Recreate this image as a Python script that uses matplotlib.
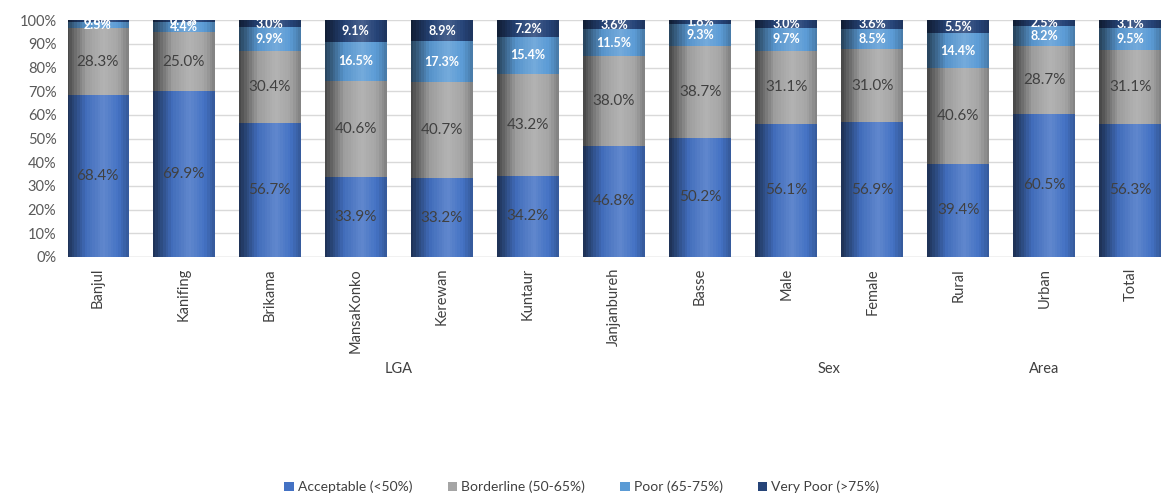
import numpy as np
import matplotlib
matplotlib.use("Agg")
import matplotlib.pyplot as plt
from matplotlib.colors import LinearSegmentedColormap, to_rgb

plt.rcParams["font.family"] = ["Lato", "DejaVu Sans"]

categories = ["Banjul", "Kanifing", "Brikama", "MansaKonko", "Kerewan", "Kuntaur",
              "Janjanbureh", "Basse", "Male", "Female", "Rural", "Urban", "Total"]
acceptable = [68.4, 69.9, 56.7, 33.9, 33.2, 34.2, 46.8, 50.2, 56.1, 56.9, 39.4, 60.5, 56.3]
borderline = [28.3, 25.0, 30.4, 40.6, 40.7, 43.2, 38.0, 38.7, 31.1, 31.0, 40.6, 28.7, 31.1]
poor = [2.5, 4.4, 9.9, 16.5, 17.3, 15.4, 11.5, 9.3, 9.7, 8.5, 14.4, 8.2, 9.5]
very_poor = [0.8, 0.7, 3.0, 9.1, 8.9, 7.2, 3.6, 1.8, 3.0, 3.6, 5.5, 2.5, 3.1]

series_names = ["Acceptable (<50%)", "Borderline (50-65%)", "Poor (65-75%)", "Very Poor (>75%)"]
groups = [("LGA", 3.5), ("Sex", 8.5), ("Area", 11)]

colors = ["#4472C4", "#A5A5A5", "#5B9BD5", "#264478"]
label_colors = ["#404040", "#404040", "white", "white"]


def shade(c, f):
    r = np.array(to_rgb(c))
    if f < 0:
        return tuple(r * (1 + f))
    return tuple(r + (1 - r) * f)


fig = plt.figure(figsize=(11.64, 4.93), dpi=100)
ax = fig.add_axes([0.058, 0.479, 0.939, 0.48])

x = np.arange(len(categories))
width = 0.72
n_slices = 24
bottom = np.zeros(len(categories))
data = [acceptable, borderline, poor, very_poor]

for vals, col, lc, name in zip(data, colors, label_colors, series_names):
    vals = np.array(vals)
    cmap = LinearSegmentedColormap.from_list(
        "g", [(0, shade(col, -0.55)), (0.3, shade(col, -0.05)),
              (0.6, shade(col, 0.15)), (0.85, col), (1, shade(col, -0.2))])
    # plain bar for the legend handle
    ax.bar(x, vals, width, bottom=bottom, color=col, label=name,
           edgecolor="none", zorder=2)
    # cylinder-like shading: thin vertical slices
    sw = width / n_slices
    for k in range(n_slices):
        c = cmap(k / (n_slices - 1))
        w = sw * 1.6 if k < n_slices - 1 else sw
        ax.bar(x - width / 2 + k * sw, vals, w, bottom=bottom, align="edge",
               color=c, edgecolor="none", linewidth=0, zorder=2.1)
    for xi, bt, v in zip(x, bottom, vals):
        bold = lc == "white"
        ax.text(xi, bt + v / 2, f"{v:.1f}%", ha="center", va="center",
                color=lc, fontsize=9 if bold else 11,
                fontweight="bold" if bold else "normal", zorder=3)
    bottom += vals

ax.set_xlim(-0.35, len(categories) - 0.65)
ax.set_ylim(0, 100)
ax.set_yticks(np.arange(0, 101, 10))
ax.set_yticklabels([f"{t}%" for t in range(0, 101, 10)], color="#595959", fontsize=10.5)
ax.set_xticks(x)
ax.set_xticklabels(categories, rotation=90, color="#404040", fontsize=10.5)
ax.tick_params(length=0, pad=8)
ax.yaxis.grid(True, color="#D9D9D9", linewidth=1, zorder=0)
for s in ax.spines.values():
    s.set_visible(False)
ax.axhline(0, color="#D9D9D9", linewidth=1, zorder=1)

for name, pos in groups:
    ax.text(pos, -47.5, name, ha="center", va="center", color="#404040",
            fontsize=10.5, transform=ax.transData)

ax.legend(loc="center", bbox_to_anchor=(0.5, 0.012), bbox_transform=fig.transFigure,
          ncol=4, frameon=False, fontsize=10, handlelength=0.7, handleheight=0.7,
          handletextpad=0.3, columnspacing=2.5, labelcolor="#404040")

fig.savefig("out.png", dpi=100, facecolor="white")
